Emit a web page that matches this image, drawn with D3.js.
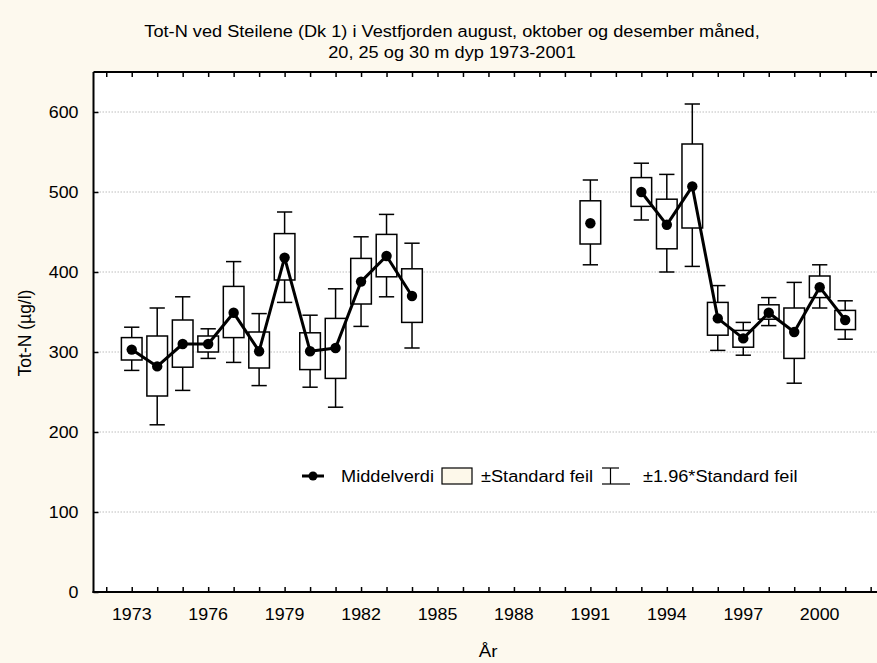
<!DOCTYPE html>
<html><head><meta charset="utf-8">
<script src="https://cdn.jsdelivr.net/npm/d3@7"></script>
<style>
html,body{margin:0;padding:0;background:#fdf9ee;}
text{font-family:"Liberation Sans",Arial,sans-serif;fill:#000;}
</style></head>
<body><svg id="chart" width="877" height="663"></svg>
<script>
const titleLines = ["Tot-N ved Steilene (Dk 1) i Vestfjorden august, oktober og desember måned,", "20, 25 og 30 m dyp 1973-2001"];
const xLabel = "År";
const yLabel = "Tot-N (µg/l)";
const years = [1973,1974,1975,1976,1977,1978,1979,1980,1981,1982,1983,1984,1991,1993,1994,1995,1996,1997,1998,1999,2000,2001];
const means = [303,282,310,310,349,301,418,301,305,388,420,370,461,500,459,507,342,317,349,325,381,340];
const seLow  = [290,245,281,300,318,280,390,278,267,360,394,337,435,482,429,455,321,306,341,292,368,328];
const seHigh = [318,320,340,320,382,325,448,324,342,417,447,404,489,518,491,560,362,327,359,355,395,352];
const ciLow  = [277,209,252,292,287,258,362,256,231,332,369,305,409,465,400,407,302,296,333,261,355,316];
const ciHigh = [331,355,369,329,413,348,475,346,379,444,472,436,515,536,522,610,383,337,368,387,409,364];
const xTickLabels = [1973,1976,1979,1982,1985,1988,1991,1994,1997,2000];
const yTicks = [0,100,200,300,400,500,600];
const legendItems = ["Middelverdi","±Standard feil","±1.96*Standard feil"];

const svg = d3.select("#chart");
const pL = 93.5, pT = 72, pB = 592, pR = 883.4;
const x = d3.scaleLinear().domain([1971.5, 2002.5]).range([pL, pR]);
const y = d3.scaleLinear().domain([0, 650]).range([pB, pT]);
const step = x(1974) - x(1973);
const boxW = step * 0.81, capW = step * 0.6;

function stretch(sel, sx){
  sel.each(function(){
    const t = d3.select(this);
    const tx = +t.attr("x") || 0, ty = +t.attr("y") || 0;
    t.attr("x",0).attr("y",0).attr("transform",`translate(${tx},${ty}) scale(${sx},1)`);
  });
}

svg.append("rect").attr("width",877).attr("height",663).attr("fill","#fdf9ee");
svg.append("rect").attr("x",pL).attr("y",pT).attr("width",pR-pL).attr("height",pB-pT).attr("fill","#fff");

// title
svg.append("g").selectAll("text").data(titleLines).join("text")
  .attr("x",452).attr("y",(d,i)=>37+i*21).attr("text-anchor","middle")
  .style("font-size","17px").text(d=>d).call(stretch,1.07);

// grid
svg.append("g").selectAll("line").data(yTicks.filter(v=>v>0)).join("line")
  .attr("x1",pL).attr("x2",pR).attr("y1",d=>y(d)).attr("y2",d=>y(d))
  .attr("stroke","#bdbdbd").attr("stroke-width",1).attr("stroke-dasharray","1.5,1.5");

// axes
const yearTicks = d3.range(1972, 2003);
const xAxisB = d3.axisBottom(x).tickValues(yearTicks).tickSize(-5).tickFormat("");
const gB = svg.append("g").attr("transform",`translate(0,${pB})`).call(xAxisB);
gB.select(".domain").remove();
gB.selectAll("line").attr("stroke","#000").attr("stroke-width",1.5);
const xAxisT = d3.axisTop(x).tickValues(yearTicks).tickSize(-5).tickFormat("");
const gT = svg.append("g").attr("transform",`translate(0,${pT})`).call(xAxisT);
gT.select(".domain").remove();
gT.selectAll("line").attr("stroke","#000").attr("stroke-width",1.5);
const yAxis = d3.axisLeft(y).tickValues(yTicks).tickSize(-5).tickPadding(15).tickFormat(d3.format("d"));
const gL = svg.append("g").attr("transform",`translate(${pL},0)`).call(yAxis);
gL.select(".domain").remove();
gL.selectAll("line").attr("stroke","#000").attr("stroke-width",1.5);
gL.selectAll("text").style("font-size","17px").call(stretch,1.05);

svg.append("g").selectAll("text").data(xTickLabels).join("text")
  .attr("x",d=>x(d)).attr("y",620).attr("text-anchor","middle").style("font-size","17px").text(d=>d).call(stretch,1.05);

svg.append("line").attr("x1",pL).attr("x2",pL).attr("y1",pT).attr("y2",pB+1).attr("stroke","#000").attr("stroke-width",2);
svg.append("line").attr("x1",pL-1).attr("x2",pR).attr("y1",pB).attr("y2",pB).attr("stroke","#000").attr("stroke-width",2);
svg.append("line").attr("x1",pL).attr("x2",pR).attr("y1",pT).attr("y2",pT).attr("stroke","#000").attr("stroke-width",2);

// labels
svg.append("text").attr("transform",`translate(31,333) rotate(-90)`).attr("text-anchor","middle").style("font-size","17.5px").text(yLabel);
svg.append("text").attr("x",488).attr("y",657).attr("text-anchor","middle").style("font-size","17px").text(xLabel).call(stretch,1.1);

// data
const data = years.map((yr,i)=>({yr, m:means[i], sl:seLow[i], sh:seHigh[i], cl:ciLow[i], ch:ciHigh[i]}));
const g = svg.append("g");
const wh = g.append("g").attr("stroke","#000").attr("stroke-width",1.5);
data.forEach(d=>{
  wh.append("line").attr("x1",x(d.yr)).attr("x2",x(d.yr)).attr("y1",y(d.ch)).attr("y2",y(d.cl));
  wh.append("line").attr("x1",x(d.yr)-capW/2).attr("x2",x(d.yr)+capW/2).attr("y1",y(d.ch)).attr("y2",y(d.ch));
  wh.append("line").attr("x1",x(d.yr)-capW/2).attr("x2",x(d.yr)+capW/2).attr("y1",y(d.cl)).attr("y2",y(d.cl));
});
g.append("g").selectAll("rect").data(data).join("rect")
  .attr("x",d=>x(d.yr)-boxW/2).attr("width",boxW)
  .attr("y",d=>y(d.sh)).attr("height",d=>y(d.sl)-y(d.sh))
  .attr("fill","#fff").attr("stroke","#000").attr("stroke-width",1.5);

// line segments of consecutive years
const segs = [];
data.forEach((d,i)=>{
  if(i===0 || d.yr - data[i-1].yr > 1) segs.push([d]); else segs[segs.length-1].push(d);
});
const line = d3.line().x(d=>x(d.yr)).y(d=>y(d.m));
g.append("g").selectAll("path").data(segs.filter(s=>s.length>1)).join("path")
  .attr("d",line).attr("fill","none").attr("stroke","#000").attr("stroke-width",3).attr("stroke-linejoin","round");
g.append("g").selectAll("circle").data(data).join("circle")
  .attr("cx",d=>x(d.yr)).attr("cy",d=>y(d.m)).attr("r",5.2).attr("fill","#000");

// legend
const lg = svg.append("g");
const ly = 476;
lg.append("line").attr("x1",302).attr("x2",324).attr("y1",ly).attr("y2",ly).attr("stroke","#000").attr("stroke-width",3);
lg.append("circle").attr("cx",313).attr("cy",ly).attr("r",4.5).attr("fill","#000");
lg.append("text").attr("x",341).attr("y",ly+6).style("font-size","17px").text(legendItems[0]).call(stretch,1.07);
lg.append("rect").attr("x",442).attr("y",468).attr("width",30).attr("height",16).attr("fill","#fdf8ea").attr("stroke","#000").attr("stroke-width",1.2);
lg.append("text").attr("x",481).attr("y",ly+6).style("font-size","17px").text(legendItems[1]).call(stretch,1.07);
const ws = lg.append("g").attr("stroke","#000").attr("stroke-width",1.2);
ws.append("line").attr("x1",602).attr("x2",619).attr("y1",468).attr("y2",468);
ws.append("line").attr("x1",610.5).attr("x2",610.5).attr("y1",468).attr("y2",484);
ws.append("line").attr("x1",602).attr("x2",630).attr("y1",484).attr("y2",484);
lg.append("text").attr("x",643).attr("y",ly+6).style("font-size","17px").text(legendItems[2]).call(stretch,1.07);
</script></body></html>
